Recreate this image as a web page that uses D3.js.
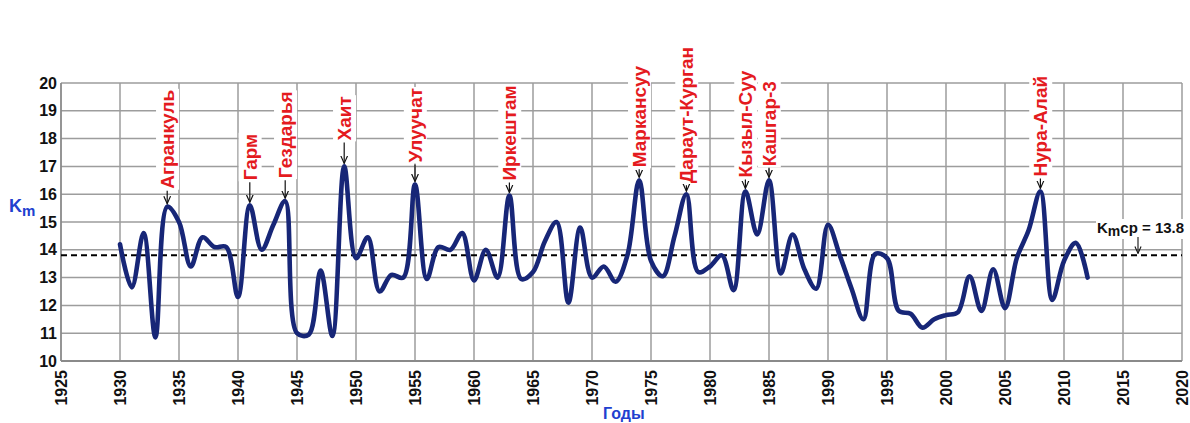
<!DOCTYPE html>
<html>
<head>
<meta charset="utf-8">
<script src="https://cdn.jsdelivr.net/npm/d3@7"></script>
<style>
  html, body { margin: 0; padding: 0; background: #fff; }
  svg { display: block; font-family: "Liberation Sans", Arial, sans-serif; }
</style>
</head>
<body>
<svg id="chart" width="1190" height="423"></svg>
<script>
// Annual Km index, 1930–2012
const years = d3.range(1930, 2013);
const kmValues = [
  14.2, 12.65, 14.6, 10.85, 15.55, 15.0, 13.4, 14.45, 14.1, 14.1,   // 1930–1939
  12.3, 15.6, 14.0, 14.9, 15.75, 11.0, 10.95, 13.25, 10.9, 17.0,    // 1940–1949
  13.7, 14.45, 12.5, 13.1, 13.0, 16.35, 12.95, 14.1, 14.0, 14.6,    // 1950–1959
  12.9, 14.0, 13.0, 15.95, 12.95, 13.2, 14.3, 15.0, 12.1, 14.8,     // 1960–1969
  13.0, 13.4, 12.85, 13.8, 16.5, 13.6, 13.05, 14.5, 16.0, 13.2,     // 1970–1979
  13.4, 13.8, 12.55, 16.1, 14.55, 16.5, 13.15, 14.55, 13.3, 12.6,   // 1980–1989
  14.9, 13.8, 12.6, 11.5, 13.85, 13.7, 11.8, 11.7, 11.2, 11.5,      // 1990–1999
  11.65, 11.75, 13.05, 11.8, 13.3, 11.9, 13.7, 14.7, 16.1, 12.2,    // 2000–2009
  13.6, 14.25, 13.0                                                // 2010–2012
];

// Named earthquakes marked above their peaks
const quakeNames = ["Агранкуль", "Гарм", "Гездарья", "Хаит", "Улуучат", "Иркештам",
                    "Маркансуу", "Дараут-Курган", "Кызыл-Суу", "Кашгар-3", "Нура-Алай"];
const quakeYears = [1934, 1941, 1944, 1949, 1955, 1963, 1974, 1978, 1983, 1985, 2008];

// Long-term mean
const kmMean = 13.8;

// Axis ticks
const xTicks = [1925, 1930, 1935, 1940, 1945, 1950, 1955, 1960, 1965, 1970,
                1975, 1980, 1985, 1990, 1995, 2000, 2005, 2010, 2015, 2020];
const yTicks = [10, 11, 12, 13, 14, 15, 16, 17, 18, 19, 20];

const svg = d3.select("#chart");
const x = d3.scaleLinear().domain([1925, 2020]).range([61, 1182]);
const y = d3.scaleLinear().domain([10, 20]).range([361, 83]);

const gridColor = "#9d9d9d";

// Grid
const grid = svg.append("g");
grid.selectAll("line.h").data(yTicks.slice(1)).join("line")
  .attr("x1", x(1925)).attr("x2", x(2020))
  .attr("y1", d => y(d)).attr("y2", d => y(d))
  .attr("stroke", gridColor).attr("stroke-width", 1.5);
grid.selectAll("line.v").data(xTicks.slice(1)).join("line")
  .attr("x1", d => x(d)).attr("x2", d => x(d))
  .attr("y1", y(20)).attr("y2", y(10))
  .attr("stroke", gridColor).attr("stroke-width", 1.5);

// Axis lines
svg.append("line").attr("x1", x(1925)).attr("x2", x(1925)).attr("y1", y(20)).attr("y2", y(10))
  .attr("stroke", "#8a8a8a").attr("stroke-width", 1.8);
svg.append("line").attr("x1", x(1925)).attr("x2", x(2020)).attr("y1", y(10)).attr("y2", y(10))
  .attr("stroke", "#8a8a8a").attr("stroke-width", 1.8);

// Y axis labels
const yAxis = d3.axisLeft(y).tickValues(yTicks).tickSize(0).tickPadding(4).tickFormat(d3.format("d"));
const gy = svg.append("g").attr("transform", `translate(${x(1925)},0)`).call(yAxis);
gy.select(".domain").remove();
gy.selectAll("text").attr("font-size", 16).attr("font-weight", "bold").attr("fill", "#111")
  .attr("font-family", "Liberation Sans, Arial, sans-serif");

// X axis labels, rotated
const xAxis = d3.axisBottom(x).tickValues(xTicks).tickSize(0).tickFormat(d3.format("d"));
const gx = svg.append("g").attr("transform", `translate(0,${y(10)})`).call(xAxis);
gx.select(".domain").remove();
gx.selectAll("text")
  .attr("font-size", 16).attr("font-weight", "bold").attr("fill", "#111")
  .attr("font-family", "Liberation Sans, Arial, sans-serif")
  .attr("text-anchor", "end")
  .attr("dy", "0.35em")
  .attr("y", 0)
  .attr("transform", "translate(0,9) rotate(-90)");

// Mean line
svg.append("line")
  .attr("x1", x(1925)).attr("x2", x(2020))
  .attr("y1", y(kmMean)).attr("y2", y(kmMean))
  .attr("stroke", "#000").attr("stroke-width", 2).attr("stroke-dasharray", "6,4");

// Km curve
const line = d3.line()
  .x((d, i) => x(years[i]))
  .y(d => y(d))
  .curve(d3.curveCatmullRom.alpha(0.5));
svg.append("path")
  .datum(kmValues)
  .attr("d", line)
  .attr("fill", "none")
  .attr("stroke", "#172677")
  .attr("stroke-width", 4.6)
  .attr("stroke-linejoin", "round")
  .attr("stroke-linecap", "round");

// Arrow marker
svg.append("defs").append("marker")
  .attr("id", "arr").attr("viewBox", "0 0 10 10")
  .attr("refX", 9).attr("refY", 5)
  .attr("markerWidth", 7).attr("markerHeight", 7)
  .attr("orient", "auto")
  .append("path").attr("d", "M0,1 L9,5 L0,9").attr("fill", "none")
  .attr("stroke", "#111").attr("stroke-width", 1.4);

// Earthquake labels with leaders
const leaderLen = [17, 24, 22, 25, 21, 14, 12, 10, 13, 13, 14];
const labels = svg.append("g");
quakeNames.forEach((name, i) => {
  const yr = quakeYears[i];
  const v = kmValues[years.indexOf(yr)];
  const px = x(yr);
  const tipY = y(v) - 3;
  const textBottom = y(v) - leaderLen[i] - 1;
  const g = labels.append("g");
  const t = g.append("text")
    .attr("transform", `translate(${px},${textBottom}) rotate(-90)`)
    .attr("x", 0).attr("y", 0).attr("dy", "0.36em")
    .attr("text-anchor", "start")
    .attr("font-size", 19).attr("font-weight", "bold")
    .attr("fill", "#e41b1f")
    .text(name);
  const bb = t.node().getBBox();
  g.insert("rect", "text")
    .attr("transform", `translate(${px},${textBottom}) rotate(-90)`)
    .attr("x", bb.x - 1).attr("y", bb.y - 1)
    .attr("width", bb.width + 2).attr("height", bb.height + 2)
    .attr("fill", "#fff");
  g.append("line")
    .attr("x1", px).attr("x2", px)
    .attr("y1", textBottom + 2).attr("y2", tipY)
    .attr("stroke", "#111").attr("stroke-width", 1.2)
    .attr("marker-end", "url(#arr)");
});

// Mean label
const mg = svg.append("g");
const mt = mg.append("text")
  .attr("x", 1097).attr("y", 233)
  .attr("font-size", 15).attr("font-weight", "bold").attr("fill", "#111");
mt.append("tspan").text("K");
mt.append("tspan").attr("dy", 3).attr("font-size", 14).text("m");
mt.append("tspan").attr("dy", -3).text("ср = " + kmMean);
const mb = mt.node().getBBox();
mg.insert("rect", "text")
  .attr("x", mb.x - 1).attr("y", mb.y).attr("width", mb.width + 2).attr("height", mb.height)
  .attr("fill", "#fff");
mg.append("line")
  .attr("x1", 1138).attr("x2", 1138)
  .attr("y1", 237).attr("y2", y(kmMean) - 2)
  .attr("stroke", "#111").attr("stroke-width", 1.1)
  .attr("marker-end", "url(#arr)");

// Axis titles
const ky = svg.append("text")
  .attr("x", 9).attr("y", 212)
  .attr("font-size", 18).attr("font-weight", "bold").attr("fill", "#2140cf");
ky.append("tspan").text("K");
ky.append("tspan").attr("dy", 4).attr("font-size", 15).text("m");

svg.append("text")
  .attr("x", 603).attr("y", 419)
  .attr("font-size", 16).attr("font-weight", "bold").attr("fill", "#2140cf")
  .text("Годы");
</script>
</body>
</html>
